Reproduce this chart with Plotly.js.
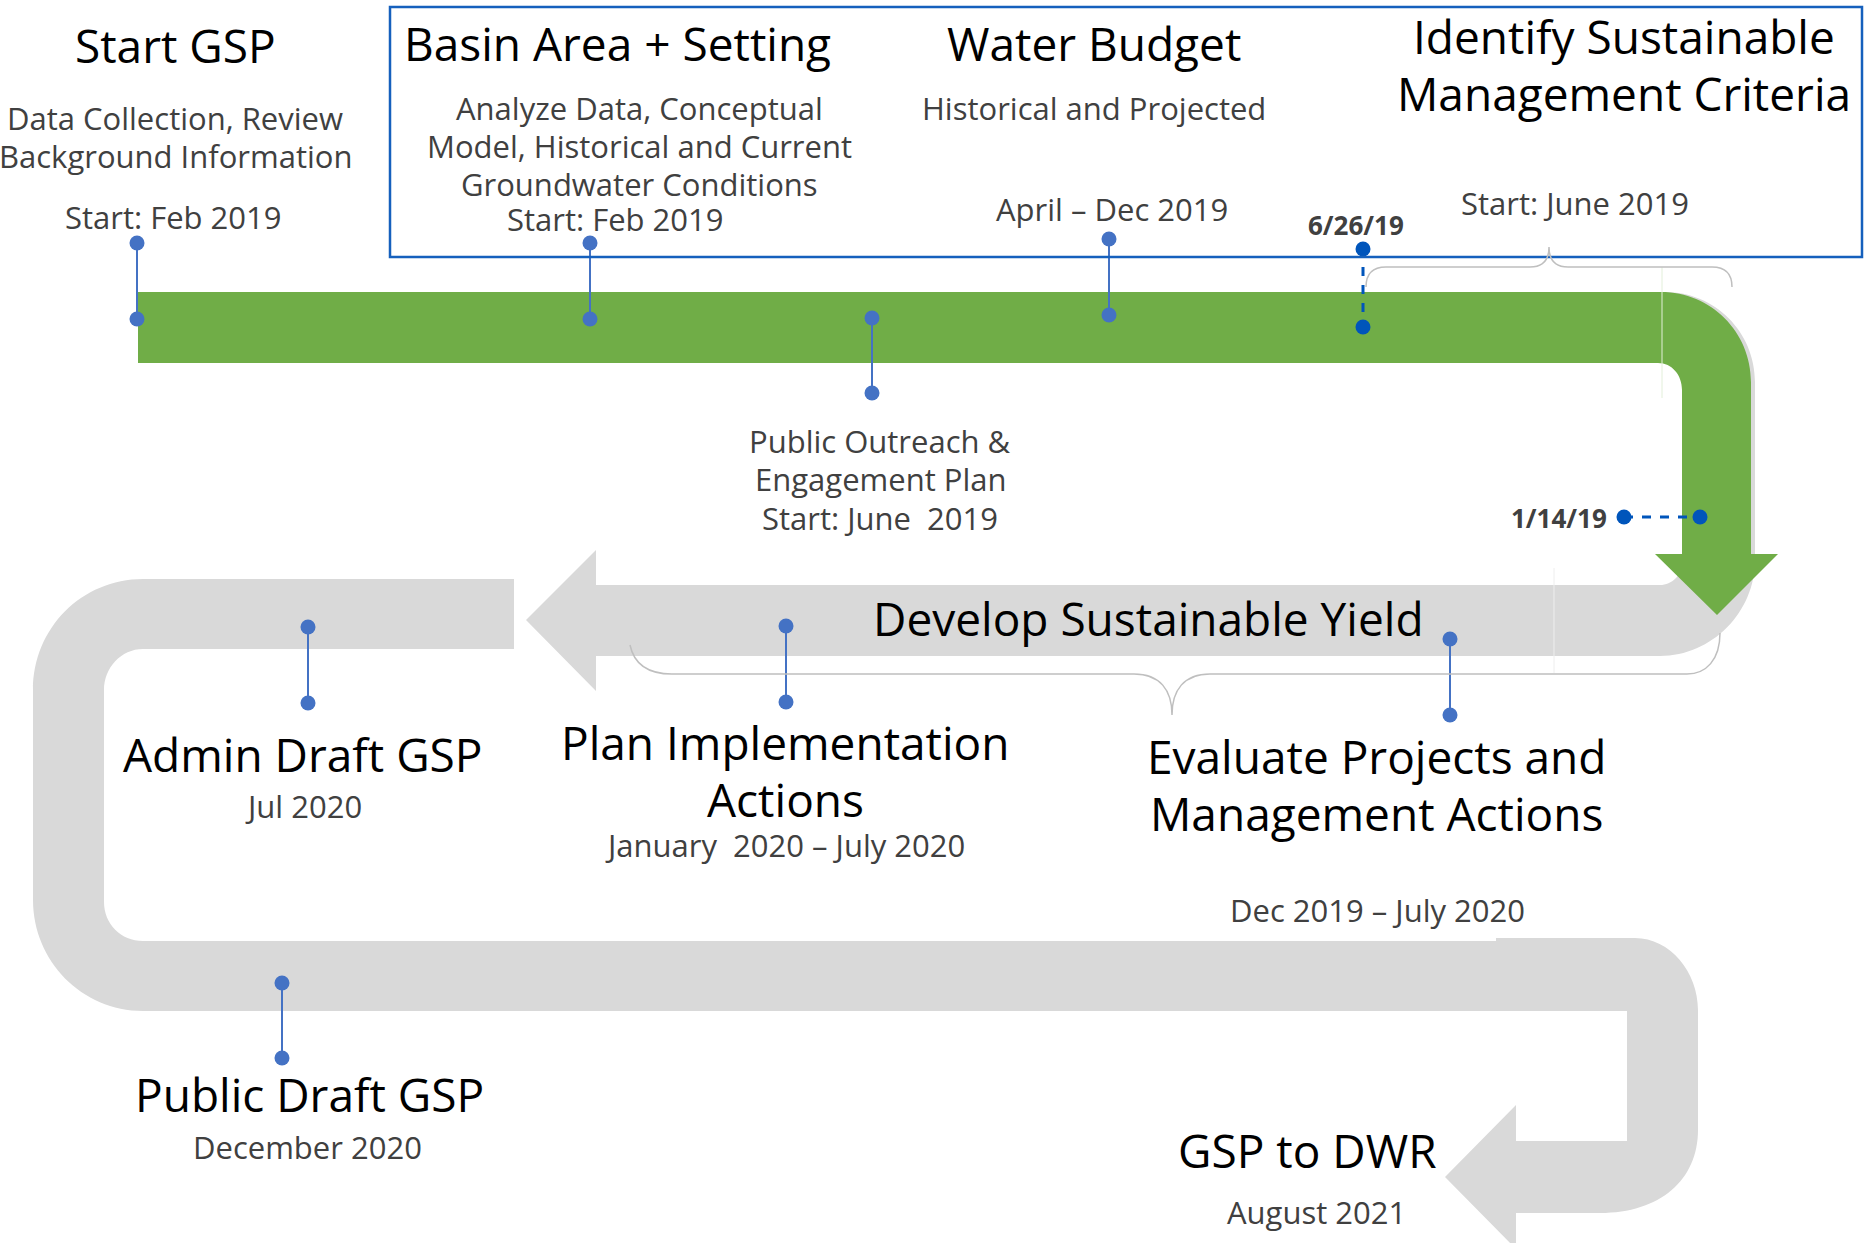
<!DOCTYPE html>
<html>
<head>
<meta charset="utf-8">
<script src="https://cdn.plot.ly/plotly-3.0.1.min.js"></script>
<style>
  html, body { margin: 0; padding: 0; background: #fff; }
  #timeline { width: 1864px; height: 1243px; }
</style>
</head>
<body>
<div id="timeline"></div>
<script>
// text of each step along the track ("|" = line break)
var stepTitles = ["Start GSP", "Basin Area + Setting", "Water Budget",
    "Identify Sustainable|Management Criteria", "", "Develop Sustainable Yield",
    "Admin Draft GSP", "Plan Implementation|Actions", "Evaluate Projects and|Management Actions",
    "Public Draft GSP", "GSP to DWR"];
var stepNotes = ["Data Collection, Review|Background Information",
    "Analyze Data, Conceptual|Model, Historical and Current|Groundwater Conditions",
    "Historical and Projected", "", "Public Outreach &|Engagement Plan",
    "", "", "", "", "", ""];
var stepDates = ["Start: Feb 2019", "Start: Feb 2019", "April \u2013 Dec 2019", "Start: June 2019",
    "Start: June  2019", "", "Jul 2020", "January  2020 \u2013 July 2020",
    "Dec 2019 \u2013 July 2020", "December 2020", "August 2021"];
var keyDates = ["6/26/19", "1/14/19"];

// where each text block sits: [titleX, titleY, noteX, noteY, dateX, dateY]
var stepPos = [
    [175, 45, 175, 118, 173, 217],
    [617, 43, 639, 108, 615, 219],
    [1094, 43, 1094, 108, 1112, 209],
    [1624, 36, 0, 0, 1575, 203],
    [0, 0, 880, 441, 880, 518],
    [1148, 618, 0, 0, 0, 0],
    [303, 754, 0, 0, 303, 806],
    [785, 742, 0, 0, 785, 845],
    [1376, 756, 0, 0, 1377, 910],
    [309, 1094, 0, 0, 307, 1147],
    [1307, 1150, 0, 0, 1316, 1212]
];
// pins: [x0, y0, x1, y1, dashed]
var pins = [
    [137, 243, 137, 319, 0],
    [590, 243, 590, 319, 0],
    [872, 318, 872, 393, 0],
    [1109, 239, 1109, 315, 0],
    [1363, 249, 1363, 327, 1],
    [1624, 517, 1700, 517, 1],
    [1450, 639, 1450, 715, 0],
    [786, 626, 786, 702, 0],
    [308, 627, 308, 703, 0],
    [282, 983, 282, 1058, 0]
];
var keyDatePos = [[1356, 225], [1559, 518]];

var FONT = "'Open Sans', sans-serif";
var GREEN = "#70AD47", GRAY = "#D9D9D9", PIN = "#4472C4", DASH = "#0055BB";

var annotations = [];
function addLines(str, x, y, gap, size, color, bold) {
    if (!str) return;
    str.split("|").forEach(function(line, i) {
        annotations.push({
            x: x, y: y + i * gap, xref: "x", yref: "y", text: bold ? "<b>" + line + "</b>" : line,
            showarrow: false, xanchor: "center", yanchor: "middle",
            font: {family: FONT, size: size, color: color}
        });
    });
}
for (var i = 0; i < stepTitles.length; i++) {
    var p = stepPos[i];
    addLines(stepTitles[i], p[0], p[1], 57, 46, "#000000");
    addLines(stepNotes[i], p[2], p[3], 38, 31, "#404040");
    addLines(stepDates[i], p[4], p[5], 38, 31, "#404040");
}
keyDates.forEach(function(d, i) {
    addLines(d, keyDatePos[i][0], keyDatePos[i][1], 0, 26, "#404040", true);
});

var traces = pins.map(function(p) {
    return {
        x: [p[0], p[2]], y: [p[1], p[3]], mode: "lines+markers", type: "scatter",
        line: {color: p[4] ? DASH : PIN, width: p[4] ? 3 : 2, dash: p[4] ? "dash" : "solid"},
        marker: {color: p[4] ? DASH : PIN, size: 15},
        hoverinfo: "skip"
    };
});

var shapes = [
    // grey track behind the green turn, ending in the left arrow
    {type: "path", layer: "below", fillcolor: GRAY, line: {width: 0},
     path: "M 1500,292 L 1665,292 C 1715,292 1755,332 1755,382 L 1755,560 C 1755,612 1712,656 1660,656 " +
           "L 596,656 L 596,691 L 526,620 L 596,550 L 596,585 L 1660,585 C 1672,585 1682,575 1682,563 " +
           "L 1700,540 L 1700,330 L 1500,330 Z"},
    // grey left U-turn and long bottom run
    {type: "path", layer: "below", fillcolor: GRAY, line: {width: 0},
     path: "M 514,579 L 143,579 C 82,579 33,628 33,690 L 33,900 C 33,961 82,1011 143,1011 L 1630,1011 " +
           "L 1630,941 L 143,941 C 121,941 104,924 104,902 L 104,690 C 104,668 121,649 143,649 L 514,649 Z"},
    // grey right U-turn with final arrow
    {type: "path", layer: "below", fillcolor: GRAY, line: {width: 0},
     path: "M 1496,938 L 1635,938 C 1670,938 1698,972 1698,1010 L 1698,1130 C 1698,1180 1660,1213 1600,1213 " +
           "L 1516,1213 L 1516,1249 L 1445,1177 L 1516,1105 L 1516,1141 L 1627,1141 L 1627,1011 L 1496,1011 Z"},
    // green track with down arrow
    {type: "path", layer: "below", fillcolor: GREEN, line: {width: 0},
     path: "M 138,292 L 1661,292 C 1711,292 1751,332 1751,382 L 1751,554 L 1778,554 L 1717,615 L 1655,554 " +
           "L 1682,554 L 1682,390 C 1682,375 1672,363 1658,363 L 138,363 Z"},
    // faint guide lines
    {type: "line", layer: "below", x0: 1662, x1: 1662, y0: 267, y1: 398, line: {color: "#E2EFD9", width: 1}},
    {type: "line", layer: "below", x0: 1554, x1: 1554, y0: 568, y1: 673, line: {color: "#EEEEEE", width: 1}},
    // blue box round the top phases
    {type: "rect", x0: 390, x1: 1862, y0: 7, y1: 257, line: {color: "#1560BD", width: 2.5}, fillcolor: "rgba(0,0,0,0)"},
    // braces
    {type: "path", line: {color: "#BFBFBF", width: 1.5},
     path: "M 1366,287 C 1366,274 1372,267 1386,267 L 1530,267 C 1543,267 1549,260 1549,247 " +
           "C 1549,260 1555,267 1568,267 L 1712,267 C 1726,267 1732,274 1732,287"},
    {type: "path", line: {color: "#BFBFBF", width: 1.5},
     path: "M 630,645 C 634,664 648,674 672,674 L 1134,674 C 1160,674 1172,690 1172,715 " +
           "C 1172,690 1184,674 1210,674 L 1687,674 C 1706,674 1720,660 1720,633"}
];

var layout = {
    width: 1864, height: 1243,
    margin: {l: 0, r: 0, t: 0, b: 0},
    paper_bgcolor: "#ffffff", plot_bgcolor: "#ffffff",
    showlegend: false,
    xaxis: {range: [0, 1864], visible: false, fixedrange: true},
    yaxis: {range: [1243, 0], visible: false, fixedrange: true},
    shapes: shapes,
    annotations: annotations
};

Plotly.newPlot("timeline", traces, layout, {displayModeBar: false, staticPlot: true});
</script>
</body>
</html>
